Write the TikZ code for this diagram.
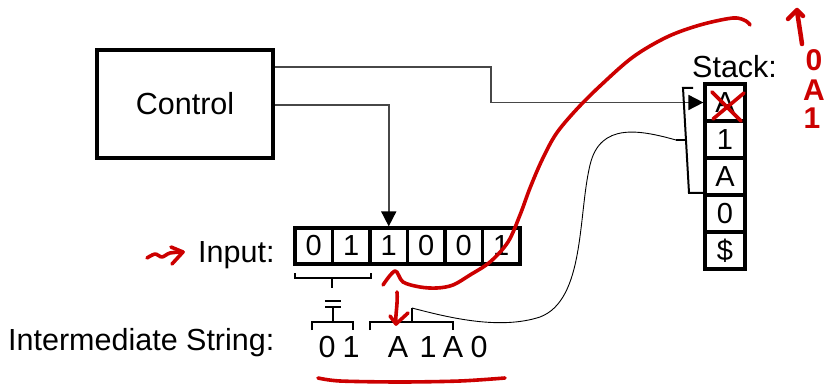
\documentclass[tikz,border=0pt]{standalone}
\usepackage{fontspec}
\setmainfont{Liberation Sans}
\usetikzlibrary{arrows.meta}
\definecolor{inkred}{RGB}{204,0,0}
\tikzset{
  cell/.style={draw, line width=3.2pt, minimum width=37.5pt, minimum height=36pt, inner sep=0pt, font=\fontsize{29}{30}\selectfont},
  scell/.style={cell, minimum width=40pt, minimum height=37pt},
  lbl/.style={inner sep=0pt, font=\fontsize{30.5}{32}\selectfont},
  conn/.style={line width=1.7pt, draw=black!72, -{Triangle[length=15pt,width=15pt,color=black]}},
  bracket/.style={line width=2pt},
  ink/.style={draw=inkred, line width=3.6pt, line cap=round, line join=round},
  inktext/.style={text=inkred, inner sep=0pt, font=\fontsize{30}{32}\selectfont\bfseries},
}
\begin{document}
\begin{tikzpicture}[x=1pt, y=-1pt]
\useasboundingbox (0,0) rectangle (824,387);

% Control box
\node[draw, line width=3.5pt, minimum width=176pt, minimum height=108pt, inner sep=0pt, font=\fontsize{30.5}{32}\selectfont] (control) at (185,104) {Control};

% Input tape
\foreach \i/\t in {0/0,1/1,2/1,3/0,4/0,5/1}{
  \node[cell] (in\i) at ({313.75+37.5*\i},246) {\t};
}
\node[lbl, anchor=base west] (inputlbl) at (198,262) {Input:};

% Stack
\foreach \i/\t in {0/A,1/1,2/A,3/0,4/\$}{
  \node[scell] (st\i) at (725,{102.5+37*\i}) {\t};
}
\node[lbl, anchor=base west] (stacklbl) at (692,78) {Stack:};

% Intermediate string
\node[lbl, anchor=base west] (interlbl) at (8,350) {Intermediate String:};
\node[lbl, anchor=base] (i0) at (327,357) {0};
\node[lbl, anchor=base] (i1) at (351,357) {1};
\node[lbl, anchor=base] (i2) at (398,357) {A};
\node[lbl, anchor=base] (i3) at (428,357) {1};
\node[lbl, anchor=base] (i4) at (453,357) {A};
\node[lbl, anchor=base] (i5) at (479,357) {0};

% Connectors from control
\draw[conn] ([yshift=-19pt]control.north east) -- ++(216,0) |- (st0.west);
\draw[conn] ([yshift=-1pt]control.east) -| (in2.north);

% Brackets
\draw[bracket] (295,273) -- (295,278) -- (371,278) -- (371,273);
\draw[bracket] (332,278) -- (332,288);
\draw[bracket] (325,300.5) -- (341,300.5);
\draw[bracket] (325,307) -- (341,307);
\draw[bracket] (333,308) -- (333,322);
\draw[bracket] (312,330) -- (312,322) -- (353,322) -- (353,330);
\draw[bracket] (370,330) -- (370,322) -- (453,322) -- (453,330);
\draw[bracket] (412,322) -- (412,308);
\draw[bracket] (693,88) -- (683,88) -- (689,193) -- (703,193);
\draw[bracket] (686,140) -- (676,140);

% thin link curve
\draw[line width=0.9pt] (676,140) .. controls (640,130) and (600,122) .. (590,165)
  .. controls (578,215) and (585,300) .. (540,317)
  .. controls (500,330) and (450,318) .. (412,308);

% Red ink annotations
\draw[ink] plot[smooth, tension=0.55] coordinates {(383,285) (395,271) (403,282) (420,287) (437,288) (453,285) (470,275) (490,262) (508,242) (520,215) (530,188) (542,160) (556,134) (576,110) (600,86) (633,57) (667,37) (700,25) (733,18) (746,21) (750,25)};
\draw[ink] (397,292) .. controls (398,305) and (395,315) .. (396,324);
\draw[ink] (390,316) -- (396,324) -- (408,313);
\draw[ink] plot[smooth] coordinates {(147,258) (155,254) (162,257) (170,253) (183,252)};
\draw[ink] (171,247) -- (183,252) -- (172,264);
\draw[ink] (712,92) -- (741,121);
\draw[ink] (713,119) -- (744,93);
\draw[ink, line width=4.5pt] (802,44) .. controls (800,30) and (798,18) .. (797,11);
\draw[ink, line width=4.5pt] (788,19) -- (797,10) -- (803,16);
\node[inktext] (r0) at (814,60) {0};
\node[inktext] (r1) at (814,90) {A};
\node[inktext] (r2) at (812,118) {1};
\draw[ink] plot[smooth] coordinates {(318,378) (340,381) (400,382) (460,381) (505,378)};
\end{tikzpicture}
\end{document}
